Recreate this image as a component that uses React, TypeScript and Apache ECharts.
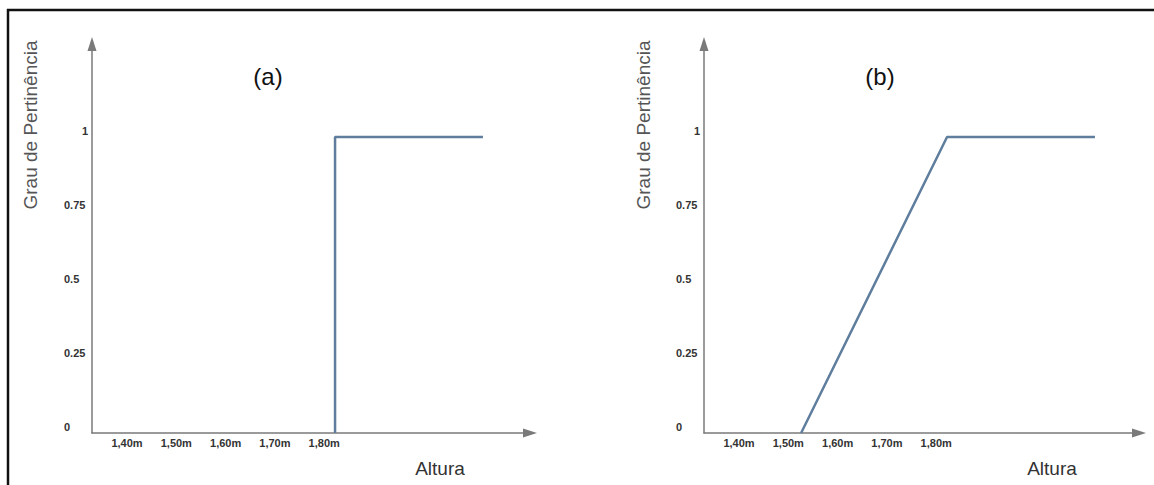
import React, { useEffect, useRef } from "react";
import * as echarts from "echarts";

// Data
const xTickValues = [1.4, 1.5, 1.6, 1.7, 1.8];
const yTickValues = [0, 0.25, 0.5, 0.75, 1];
const seriesA: [number, number][] = [
  [1.822, 0],
  [1.822, 1],
  [2.122, 1],
];
const seriesB: [number, number][] = [
  [1.526, 0],
  [1.822, 1],
  [2.122, 1],
];
const panelTitles = ["(a)", "(b)"];
const xAxisName = "Altura";
const yAxisName = "Grau de Pertinência";

const fmtX = (v: number) => v.toFixed(2).replace(".", ",") + "m";
const fmtY = (v: number) => (v === 1 ? "{one|1}" : String(v));

const AXIS_COLOR = "#7a7a7a";
const LINE_COLOR = "#5f7d9c";
const FONT = "Liberation Sans, Arial, sans-serif";

export default function App() {
  const ref = useRef<HTMLDivElement>(null);
  useEffect(() => {
    document.body.style.margin = "0";
    document.body.style.overflow = "hidden";
    document.documentElement.style.overflow = "hidden";
    const chart = echarts.init(ref.current!, undefined, { renderer: "svg" });
    const grids = [
      { left: 92, top: 44, width: 438, height: 389 },
      { left: 704, top: 44, width: 435, height: 389 },
    ];
    const pxPerUnitX = 493; // px per 1.0 m
    const xAxes = grids.map((g, i) => ({
      type: "value",
      gridIndex: i,
      min: 1.329,
      max: 1.329 + g.width / pxPerUnitX,
      splitLine: { show: false },
      axisTick: { show: false },
      axisLine: {
        show: true,
        onZero: false,
        symbol: ["none", "triangle"],
        symbolSize: [9, 14],
        lineStyle: { color: AXIS_COLOR, width: 1.5 },
      },
      axisLabel: {
        customValues: xTickValues,
        formatter: fmtX,
        margin: 4,
        fontSize: 11,
        fontWeight: "bold",
        fontFamily: FONT,
        color: "#333",
      },
    }));
    const yAxes = grids.map((g, i) => ({
      type: "value",
      gridIndex: i,
      min: 0,
      max: g.height / 296,
      splitLine: { show: false },
      axisTick: { show: false },
      axisLine: {
        show: true,
        onZero: false,
        symbol: ["none", "triangle"],
        symbolSize: [9, 14],
        lineStyle: { color: AXIS_COLOR, width: 1.5 },
      },
      axisLabel: {
        customValues: yTickValues,
        formatter: fmtY,
        align: "left",
        verticalAlign: "bottom",
        lineHeight: 12,
        margin: 28,
        fontSize: 11,
        fontWeight: "bold",
        fontFamily: FONT,
        color: "#333",
        rich: {
          one: {
            fontSize: 11,
            fontWeight: "bold",
            fontFamily: FONT,
            color: "#333",
            padding: [0, 0, 0, 18],
          },
        },
      },
    }));
    const mkText = (text: string, x: number, y: number, size: number, color: string, rotation = 0) => ({
      type: "text",
      x,
      y,
      rotation,
      style: {
        text,
        fontSize: size,
        fontFamily: FONT,
        fill: color,
        align: "center",
        verticalAlign: "middle",
      },
    });
    chart.setOption({
      animation: false,
      backgroundColor: "#fff",
      grid: grids,
      xAxis: xAxes,
      yAxis: yAxes,
      series: [
        {
          type: "line",
          xAxisIndex: 0,
          yAxisIndex: 0,
          data: seriesA,
          symbol: "none",
          lineStyle: { color: LINE_COLOR, width: 2.5 },
        },
        {
          type: "line",
          xAxisIndex: 1,
          yAxisIndex: 1,
          data: seriesB,
          symbol: "none",
          lineStyle: { color: LINE_COLOR, width: 2.5 },
        },
      ],
      graphic: [
        {
          type: "line",
          shape: { x1: 7, y1: 10, x2: 1154, y2: 10 },
          style: { stroke: "#111", lineWidth: 2.5 },
        },
        {
          type: "line",
          shape: { x1: 8, y1: 9, x2: 8, y2: 485 },
          style: { stroke: "#111", lineWidth: 2.5 },
        },
        mkText(panelTitles[0], 268, 76, 24, "#111"),
        mkText(panelTitles[1], 880, 76, 24, "#111"),
        mkText(xAxisName, 440, 468, 19, "#333"),
        mkText(xAxisName, 1052, 468, 19, "#333"),
        mkText(yAxisName, 30, 125, 19, "#555", Math.PI / 2),
        mkText(yAxisName, 643, 125, 19, "#555", Math.PI / 2),
      ],
    });
    return () => chart.dispose();
  }, []);
  return (
    <div
      ref={ref}
      style={{ position: "absolute", left: 0, top: 0, width: 1154, height: 485 }}
    />
  );
}
